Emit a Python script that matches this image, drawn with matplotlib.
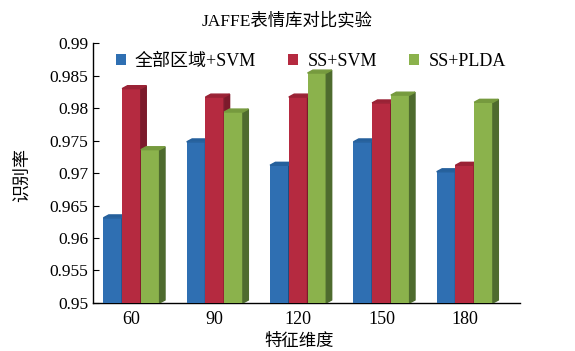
import numpy as np
import matplotlib.pyplot as plt
from matplotlib.patches import Polygon

plt.rcParams['font.family'] = ['Liberation Serif', 'Noto Sans CJK SC']

dims = ['60', '90', '120', '150', '180']
all_svm = [0.9631, 0.9748, 0.9712, 0.9748, 0.9702]
ss_svm = [0.9830, 0.9817, 0.9817, 0.9808, 0.9712]
ss_plda = [0.9736, 0.9794, 0.9854, 0.9820, 0.9809]
series = ['全部区域+SVM', 'SS+SVM', 'SS+PLDA']
yticks = [0.95, 0.955, 0.96, 0.965, 0.97, 0.975, 0.98, 0.985, 0.99]

colors = ['#2f6fb2', '#b52a40', '#8bb24c']
sides = ['#1d4a7c', '#7c1a2b', '#4e6b2e']
tops = ['#25609c', '#9a2235', '#769a3e']

fig = plt.figure(figsize=(5.75, 3.51), dpi=100)
ax = fig.add_axes([0.162, 0.137, 0.742, 0.74])

ymin, ymax = 0.95, 0.99
ax.set_ylim(ymin, ymax)
ax.set_xlim(-0.46, 4.66)

x = np.arange(len(dims))
w = 0.225
dx = 0.065   # depth of the fake 3d side
dy = 0.00045

for k, vals in enumerate([all_svm, ss_svm, ss_plda]):
    xs = x + (k - 1) * w
    ax.bar(xs, np.array(vals) - ymin, w, bottom=ymin, color=colors[k],
           label=series[k], zorder=3 + k)
    for xi, v in zip(xs, vals):
        r = xi + w / 2
        side = Polygon([(r, ymin), (r + dx, ymin + dy), (r + dx, v + dy), (r, v)],
                       closed=True, color=sides[k], zorder=3 + k, clip_on=True)
        top = Polygon([(xi - w / 2, v), (xi - w / 2 + dx, v + dy),
                       (r + dx, v + dy), (r, v)],
                      closed=True, color=tops[k], zorder=3 + k)
        ax.add_patch(side)
        ax.add_patch(top)

ax.set_xticks(x)
ax.set_xticklabels(dims, fontsize=13)
ax.set_yticks(yticks)
ax.set_yticklabels([f'{t:g}' for t in yticks], fontsize=12.5)
ax.tick_params(axis='y', direction='in', length=4, width=0.8)
ax.tick_params(axis='x', length=0, pad=6)

ax.spines['top'].set_visible(False)
ax.spines['right'].set_visible(False)
ax.spines['left'].set_linewidth(1.0)
ax.spines['bottom'].set_linewidth(1.0)

ax.legend(loc='upper center', bbox_to_anchor=(0.51, 1.025), ncol=3, frameon=False,
          fontsize=13, handlelength=0.55, handleheight=0.55, columnspacing=1.8,
          handletextpad=0.5)

fig.text(0.5, 0.94, 'JAFFE表情库对比实验', ha='center', va='center', fontsize=12.5)
fig.text(0.04, 0.5, '识别率', ha='center', va='center', rotation=90, fontsize=13)
fig.text(0.52, 0.027, '特征维度', ha='center', va='center', fontsize=12.5)

fig.savefig('out.png', dpi=100)
